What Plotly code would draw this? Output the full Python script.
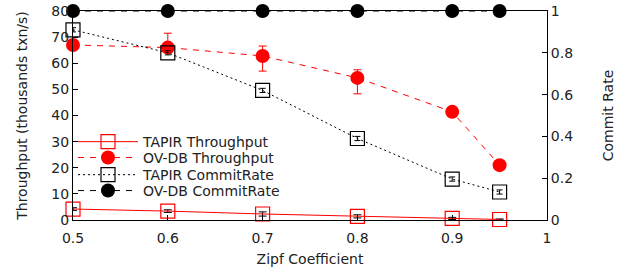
import plotly.graph_objects as go

zipf = [0.5, 0.6, 0.7, 0.8, 0.9, 0.95]
tapir_tput = [4.2, 3.4, 2.3, 1.4, 0.6, 0.2]
tapir_tput_err = [0.5, 0.5, 0.8, 0.6, 0.4, 0.2]
ovdb_tput = [67, 66, 62.8, 54.4, 41.4, 21]
ovdb_tput_err_plus = [1.5, 5.5, 3.8, 3.1, 1.0, 0.5]
ovdb_tput_err_minus = [1.5, 1.5, 5.8, 6.1, 1.0, 0.5]
tapir_commit = [0.91, 0.80, 0.62, 0.39, 0.196, 0.134]
tapir_commit_err = [0.01, 0.01, 0.01, 0.01, 0.01, 0.01]
ovdb_commit = [1, 1, 1, 1, 1, 1]

font = "DejaVu Sans"
fs = 14
fig = go.Figure()

fig.add_trace(go.Scatter(
    x=zipf, y=tapir_tput, name="TAPIR Throughput", mode="lines+markers",
    line=dict(color="red", width=1),
    marker=dict(symbol="square-open", size=14, color="red", line=dict(width=1.2)),
    error_y=dict(type="data", array=tapir_tput_err, color="black", thickness=1, width=4),
    yaxis="y", cliponaxis=False, legend="legend"))
fig.add_trace(go.Scatter(
    x=zipf, y=ovdb_tput, name="OV-DB Throughput", mode="lines+markers",
    line=dict(color="red", width=1, dash="6px,6px"),
    marker=dict(symbol="circle", size=14, color="red"),
    error_y=dict(type="data", symmetric=False, array=ovdb_tput_err_plus,
                 arrayminus=ovdb_tput_err_minus, color="red", thickness=1, width=4),
    yaxis="y", cliponaxis=False, legend="legend2"))
fig.add_trace(go.Scatter(
    x=zipf, y=tapir_commit, name="TAPIR CommitRate", mode="lines+markers",
    line=dict(color="black", width=1, dash="2px,3px"),
    marker=dict(symbol="square-open", size=14, color="black", line=dict(width=1.2)),
    error_y=dict(type="data", array=tapir_commit_err, color="black", thickness=1, width=3),
    yaxis="y2", cliponaxis=False, legend="legend3"))
fig.add_trace(go.Scatter(
    x=zipf, y=ovdb_commit, name="OV-DB CommitRate", mode="lines+markers",
    line=dict(color="black", width=1, dash="6px,6px"),
    marker=dict(symbol="circle", size=14, color="black"),
    yaxis="y2", cliponaxis=False, legend="legend4"))

axis_common = dict(showgrid=False, zeroline=False, showline=True, linecolor="black",
                   linewidth=1, ticks="inside", ticklen=5, tickcolor="black",
                   tickfont=dict(family=font, size=fs, color="#222"))

def leg(yv):
    return dict(x=0.0, y=yv, xanchor="left", yanchor="middle",
                bgcolor="rgba(0,0,0,0)", font=dict(family=font, size=fs, color="#222"),
                itemwidth=60, borderwidth=0)

fig.update_layout(
    width=625, height=274,
    margin=dict(l=73, r=78, t=11, b=54, autoexpand=False),
    plot_bgcolor="white", paper_bgcolor="white",
    font=dict(family=font, size=fs, color="#222"),
    xaxis=dict(range=[0.5, 1], tickvals=[0.5, 0.6, 0.7, 0.8, 0.9, 1],
               ticktext=["0.5", "0.6", "0.7", "0.8", "0.9", "1"], mirror=True,
               ticklabelstandoff=5,
               title=dict(text="Zipf Coefficient", font=dict(family=font, size=fs), standoff=9),
               **axis_common),
    yaxis=dict(range=[0, 80], tickvals=[0, 10, 20, 30, 40, 50, 60, 70, 80],
               title=dict(text="Throughput (thousands txn/s)", font=dict(family=font, size=fs), standoff=20),
               **axis_common),
    yaxis2=dict(range=[0, 1], tickvals=[0, 0.2, 0.4, 0.6, 0.8, 1],
                ticktext=["0", "0.2", "0.4", "0.6", "0.8", "1"],
                overlaying="y", side="right",
                title=dict(text="Commit Rate", font=dict(family=font, size=fs), standoff=31),
                **axis_common),
    legend=leg(0.373),
    legend2=leg(0.297),
    legend3=leg(0.215),
    legend4=leg(0.139),
    showlegend=True,
)

fig.write_html("out.html", config={"displayModeBar": False},
               post_script="document.body.style.margin='0';")
